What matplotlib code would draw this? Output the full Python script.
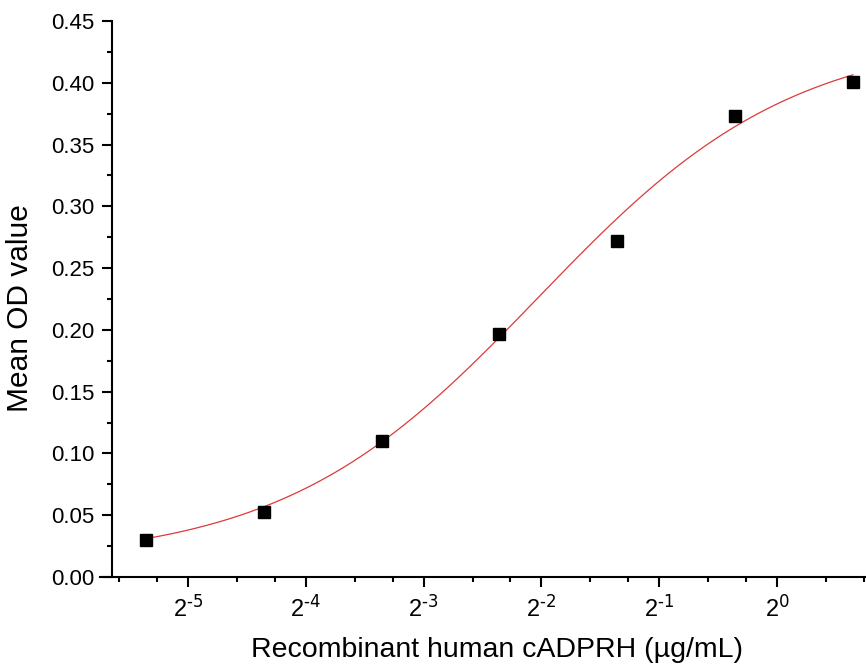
import matplotlib
matplotlib.use("Agg")
import matplotlib.pyplot as plt
import numpy as np
from matplotlib.ticker import FixedLocator, FuncFormatter, MultipleLocator

plt.rcParams["font.family"] = ["Liberation Sans", "DejaVu Sans"]
plt.rcParams["mathtext.default"] = "regular"
plt.rcParams["axes.unicode_minus"] = False

# Concentraciones (diluciones 1:2) y valores medios de OD
conc = [0.0244140625, 0.048828125, 0.09765625, 0.1953125, 0.390625, 0.78125, 1.5625]
od = [0.030, 0.053, 0.110, 0.197, 0.272, 0.373, 0.401]

# Parametros del ajuste logistico (4PL)
A1 = 0.012
A2 = 0.440
X0 = 0.245
P = 1.33

# Marcas del eje x
major_exp = [-6, -5, -4, -3, -2, -1, 0, 1]


def logistic(x):
    return A2 + (A1 - A2) / (1 + (x / X0) ** P)


def main():
    fig = plt.figure(figsize=(8.66, 6.69), dpi=100)
    ax = fig.add_axes([100 / 866, 92 / 669, 766 / 866, 556 / 669])

    x_fit = np.geomspace(conc[0], conc[-1], 400)
    ax.plot(x_fit, logistic(x_fit), color="#dc3a3a", lw=0.9, zorder=2)
    ax.plot(conc, od, ls="none", marker="s", ms=9, color="black", zorder=3)

    ax.set_xscale("log", base=2)
    ax.set_xlim(2 ** -5.747, 2 ** 0.755)
    ax.set_ylim(0, 0.45)

    majors = [2.0 ** e for e in major_exp]
    minors = [m * f for m in majors for f in (4 / 3, 5 / 3)]
    ax.xaxis.set_major_locator(FixedLocator(majors))
    ax.xaxis.set_minor_locator(FixedLocator(minors))
    # guion corto como en Origin
    ax.xaxis.set_major_formatter(
        FuncFormatter(lambda v, pos: r"$2^{\text{%d}}$" % round(np.log2(v)))
    )
    ax.xaxis.set_minor_formatter(FuncFormatter(lambda v, pos: ""))

    ax.yaxis.set_major_locator(MultipleLocator(0.05))
    ax.yaxis.set_minor_locator(MultipleLocator(0.025))
    ax.yaxis.set_major_formatter(FuncFormatter(lambda v, pos: "%.2f" % v))

    ax.spines["top"].set_visible(False)
    ax.spines["right"].set_visible(False)
    ax.spines["left"].set_position(("data", 0.02))
    for s in ("left", "bottom"):
        ax.spines[s].set_linewidth(1.5)

    ax.tick_params(which="major", direction="out", length=7, width=1.5)
    ax.tick_params(which="minor", direction="out", length=3.6, width=1.5)
    ax.tick_params(axis="y", which="major", pad=6, labelsize=16)
    ax.tick_params(axis="x", which="major", pad=6, labelsize=17)

    ax.set_xlabel("Recombinant human cADPRH (µg/mL)", fontsize=20.5)
    ax.set_ylabel("Mean OD value", fontsize=21.5)
    ax.xaxis.set_label_coords(0.518, -0.108)
    ax.yaxis.set_label_coords(-0.086, 0.484)

    fig.savefig("out.png", dpi=100)


if __name__ == "__main__":
    main()
